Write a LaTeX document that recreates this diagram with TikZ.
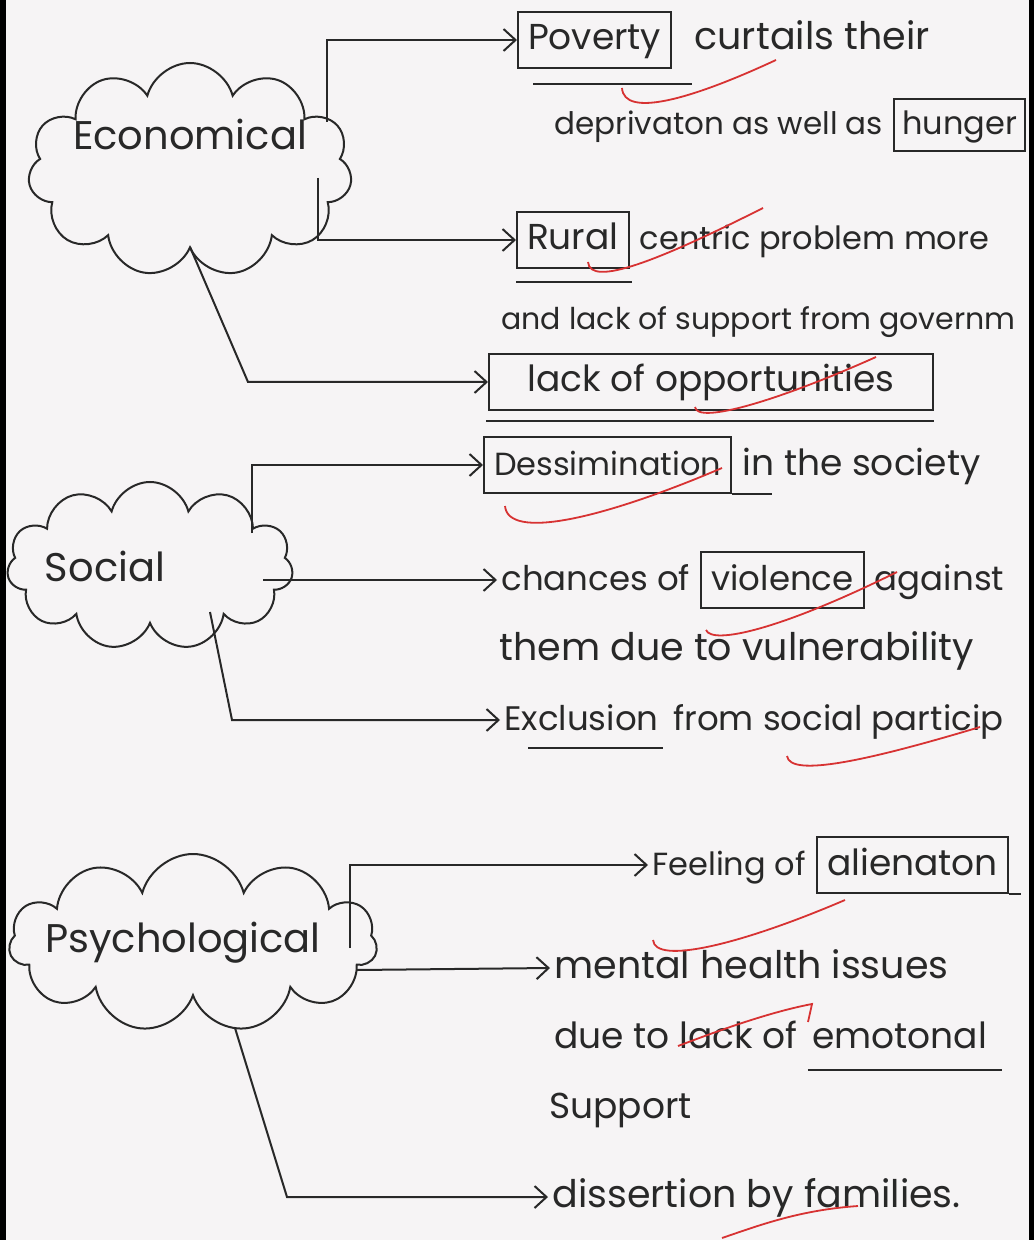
\documentclass[tikz,border=0pt]{standalone}
\usepackage{fontspec}
\setmainfont{Poppins}
\usetikzlibrary{arrows.meta,positioning,shapes.symbols}
\definecolor{ink}{RGB}{40,40,40}
\definecolor{paper}{RGB}{246,244,245}
\definecolor{markred}{RGB}{215,50,50}

\begin{document}
\begin{tikzpicture}[
    x=0.5pt, y=-0.5pt,
    node distance=3pt,
    every node/.style={font=\fontsize{18}{22}\selectfont, text=ink},
    hand/.style={font=\fontsize{#1}{#1}\selectfont},
    topic/.style={cloud, cloud puffs=11, cloud ignores aspect, draw=ink, line width=1pt, inner sep=0pt, hand=20},
    words/.style={inner sep=2pt, text height=14pt, text depth=4pt},
    boxed/.style={words, draw=ink, line width=1pt, inner sep=5pt},
    link/.style={-{Straight Barb[length=6pt, width=11pt]}, draw=ink, line width=1pt},
    uline/.style={draw=ink, line width=1pt},
    tick/.style={draw=markred, line width=0.9pt}
]
\useasboundingbox (0,0) rectangle (1034,1240);
\clip (0,0) rectangle (1034,1240);
\fill[paper] (0,0) rectangle (1034,1240);

% the three causes
\node[topic, minimum width=162pt, minimum height=107pt] (econ) at (190,170) {\smash{\raisebox{10pt}{Economical}}};
\node[topic, minimum width=143pt, minimum height=84pt] (soci) at (150,566) {\makebox[0pt]{Social\hspace{45pt}}};
\node[topic, minimum width=184pt, minimum height=89pt] (psy) at (193,943) {\makebox[0pt]{Psychological\hspace{10pt}}};

% economical
\node[boxed, anchor=west] (pov) at (517,40) {Poverty};
\node[words, hand=19, right=9pt of pov] (curt) {curtails their};
\node[words, hand=15.5, anchor=west] (dep) at (550,125) {deprivaton as well as};
\node[boxed, hand=16, inner sep=4pt, right=of dep] (hun) {hunger};
\node[boxed, anchor=west] (rur) at (516,240) {Rural};
\node[words, hand=16, right=of rur] (cen) {centric problem more};
\node[words, hand=15, anchor=west] (sup) at (497,320) {and lack of support from governm};
\node[boxed, anchor=west, minimum width=222pt] (opp) at (488,382) {lack of opportunities};

% social
\node[boxed, hand=16, anchor=west] (dsc) at (483,465) {Dessimination};
\node[words, right=of dsc] (soc) {in the society};
\node[words, hand=17, anchor=west] (chn) at (497,580) {chances of};
\node[boxed, hand=17, right=of chn] (vio) {violence};
\node[words, hand=17, right=of vio] (aga) {against};
\node[words, hand=19, anchor=west] (thm) at (495,650) {them due to vulnerability};
\node[words, hand=17, anchor=west] (exc) at (500,720) {Exclusion};
\node[words, hand=17, right=of exc] (frm) {from social particip};

% psychological
\node[words, hand=16, anchor=west] (fee) at (648,865) {Feeling of};
\node[boxed, right=of fee] (ali) {alienaton};
\node[words, hand=19, anchor=west] (men) at (550,968) {mental health issues};
\node[words, anchor=west] (due) at (550,1038) {due to lack of};
\node[words, right=of due] (emo) {emotonal};
\node[words, anchor=west] (spt) at (545,1108) {Support};
\node[words, hand=19, anchor=west] (dss) at (548,1197) {dissertion by families.};

% branches
\draw[link] ([shift={(137,-48)}]econ.center) |- (pov.west);
\draw[link] ([shift={(128,8)}]econ.center) |- (rur.west);
\draw[link] ([shift={(0,77)}]econ.center) -- ([shift={(-240,0)}]opp.west) -- (opp.west);
\draw[link] ([shift={(102,-33)}]soci.center) |- (dsc.west);
\draw[link] ([shift={(113,14)}]soci.center) -- (chn.west);
\draw[link] ([shift={(60,46)}]soci.center) -- ([shift={(-268,0)}]exc.west) -- (exc.west);
\draw[link] ([shift={(157,5)}]psy.center) |- (fee.west);
\draw[link] ([shift={(164,27)}]psy.center) -- (men.west);
\draw[link] ([shift={(42,85)}]psy.center) -- ([shift={(-261,0)}]dss.west) -- (dss.west);

% underlines
\draw[uline] ([shift={(16,15)}]pov.south west) -- ([shift={(20,15)}]pov.south east);
\draw[uline] ([shift={(0,13)}]rur.south west) -- ([shift={(2,13)}]rur.south east);
\draw[uline] ([shift={(-2,10)}]opp.south west) -- ([shift={(0,10)}]opp.south east);
\draw[uline] (dsc.south east) -- ([shift={(40,0)}]dsc.south east);
\draw[uline] ([shift={(28,6)}]exc.south west) -- ([shift={(0,6)}]exc.south east);
\draw[uline] (ali.south east) -- ([shift={(12,0)}]ali.south east);
\draw[uline] ([shift={(0,10)}]emo.south west) -- ([shift={(10,10)}]emo.south east);

% red ticks
\draw[tick] (622,88) .. controls (624,118) and (690,100) .. (776,60);
\draw[tick] (588,262) .. controls (590,288) and (660,260) .. (763,208);
\draw[tick] (695,407) .. controls (697,425) and (780,400) .. (876,357);
\draw[tick] (505,506) .. controls (508,540) and (600,520) .. (722,468);
\draw[tick] (706,630) .. controls (712,645) and (780,630) .. (897,572);
\draw[tick] (787,756) .. controls (790,778) and (870,760) .. (980,727);
\draw[tick] (653,940) .. controls (655,965) and (740,945) .. (845,900);
\draw[tick] (678,1046) .. controls (720,1030) and (770,1012) .. (812,1004) -- (808,1022);
\draw[tick] (722,1238) .. controls (760,1225) and (800,1210) .. (858,1206);

% page edges
\draw[line width=3.5pt, black] (2,0) -- (2,1240);
\draw[line width=2.5pt, black] (1031,0) -- (1031,1240);
\end{tikzpicture}
\end{document}
